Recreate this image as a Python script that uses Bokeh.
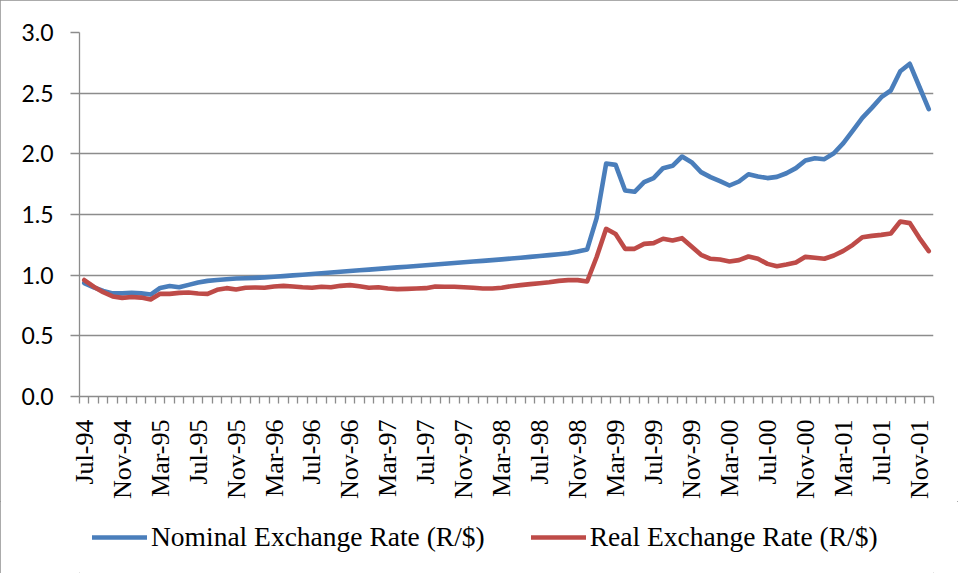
import math
import pandas as pd
from bokeh.plotting import figure
from bokeh.layouts import column
from bokeh.models import (Range1d, FixedTicker, Legend, LegendItem, NumeralTickFormatter,
                          ColumnDataSource)
from bokeh.embed import file_html
from bokeh.resources import INLINE

# ---- data (monthly, Jul-94 .. Dec-01) ----
months = list(pd.date_range("1994-07-01", periods=90, freq="MS").strftime("%b-%y"))

nominal = [
    0.935, 0.900, 0.870, 0.850, 0.850, 0.855, 0.850, 0.840, 0.895, 0.910,
    0.900, 0.920, 0.940, 0.953, 0.960, 0.967, 0.972, 0.975, 0.978, 0.982,
    0.987, 0.992, 0.998, 1.004, 1.010, 1.016, 1.022, 1.028, 1.034, 1.040,
    1.046, 1.052, 1.058, 1.064, 1.070, 1.076, 1.082, 1.088, 1.094, 1.100,
    1.106, 1.112, 1.118, 1.124, 1.130, 1.137, 1.144, 1.151, 1.158, 1.165,
    1.172, 1.180, 1.195, 1.212, 1.470, 1.920, 1.909, 1.698, 1.687, 1.766,
    1.800, 1.882, 1.901, 1.978, 1.931, 1.849, 1.808, 1.775, 1.739, 1.772,
    1.832, 1.813, 1.800, 1.810, 1.840, 1.882, 1.945, 1.964, 1.956, 2.005,
    2.088, 2.192, 2.297, 2.379, 2.467, 2.522, 2.681, 2.742, 2.555, 2.368,
]

real = [
    0.960, 0.905, 0.860, 0.825, 0.813, 0.820, 0.815, 0.800, 0.846, 0.846,
    0.854, 0.857, 0.849, 0.846, 0.879, 0.893, 0.882, 0.896, 0.898, 0.896,
    0.907, 0.912, 0.907, 0.900, 0.896, 0.905, 0.900, 0.912, 0.918, 0.909,
    0.896, 0.900, 0.890, 0.885, 0.887, 0.890, 0.893, 0.907, 0.904, 0.904,
    0.900, 0.896, 0.890, 0.890, 0.896, 0.909, 0.918, 0.926, 0.934, 0.942,
    0.953, 0.959, 0.959, 0.948, 1.150, 1.382, 1.340, 1.217, 1.217, 1.258,
    1.264, 1.300, 1.286, 1.305, 1.236, 1.168, 1.135, 1.129, 1.113, 1.124,
    1.154, 1.135, 1.093, 1.074, 1.088, 1.104, 1.151, 1.143, 1.135, 1.162,
    1.200, 1.250, 1.313, 1.324, 1.332, 1.343, 1.442, 1.429, 1.308, 1.198,
]

tick_labels = ["Jul-94", "Nov-94", "Mar-95", "Jul-95", "Nov-95", "Mar-96", "Jul-96",
               "Nov-96", "Mar-97", "Jul-97", "Nov-97", "Mar-98", "Jul-98", "Nov-98",
               "Mar-99", "Jul-99", "Nov-99", "Mar-00", "Jul-00", "Nov-00", "Mar-01",
               "Jul-01", "Nov-01"]
y_ticks = [0.0, 0.5, 1.0, 1.5, 2.0, 2.5, 3.0]

series_names = ["Nominal Exchange Rate (R/$)", "Real Exchange Rate (R/$)"]
series_colors = ["#4A7EBB", "#BE4B48"]

# ---- main figure ----
x = list(range(len(months)))
src = ColumnDataSource(dict(x=x, month=months, nominal=nominal, real=real))

GRID = "#8c8c8c"

p = figure(frame_width=854, frame_height=364, output_backend="svg", toolbar_location=None,
           x_range=Range1d(-0.5, len(months) - 0.5), y_range=Range1d(0, 3),
           min_border_left=79, min_border_right=25, min_border_top=32,
           min_border_bottom=0)
p.outline_line_color = None
p.background_fill_color = "white"
p.border_fill_color = "white"

p.line("x", "nominal", source=src, line_color=series_colors[0], line_width=4.6,
       line_join="round", line_cap="round")
p.line("x", "real", source=src, line_color=series_colors[1], line_width=4.6,
       line_join="round", line_cap="round")

# x axis
tick_pos = [months.index(l) for l in tick_labels]
xa = p.xaxis[0]
xa.ticker = FixedTicker(ticks=tick_pos, minor_ticks=[i - 0.5 for i in range(len(months) + 1)])
xa.major_label_overrides = {t: l for t, l in zip(tick_pos, tick_labels)}
xa.major_label_orientation = math.pi / 2
xa.major_tick_line_color = None
xa.major_tick_out = 0
xa.major_tick_in = 0
xa.minor_tick_line_color = GRID
xa.minor_tick_line_width = 1.3
xa.minor_tick_out = 7
xa.minor_tick_in = 0
xa.axis_line_color = GRID
xa.axis_line_width = 1.3
xa.major_label_text_font = "Liberation Serif"
xa.major_label_text_font_size = "26px"
xa.major_label_text_color = "black"
xa.major_label_standoff = 16

# y axis
ya = p.yaxis[0]
ya.ticker = FixedTicker(ticks=y_ticks)
ya.formatter = NumeralTickFormatter(format="0.0")
ya.major_tick_out = 9
ya.major_tick_in = 0
ya.minor_tick_line_color = None
ya.major_tick_line_color = GRID
ya.major_tick_line_width = 1.3
ya.axis_line_color = GRID
ya.axis_line_width = 1.3
ya.major_label_text_font = "Lato"
ya.major_label_text_font_size = "23px"
ya.major_label_text_color = "black"
ya.major_label_standoff = 17

p.xgrid.visible = False
p.ygrid.grid_line_color = GRID
p.ygrid.grid_line_width = 1.3

# ---- legend strip (separate small figure below the chart) ----
p2 = figure(width=958, height=72, output_backend="svg", toolbar_location=None,
            x_axis_type=None, y_axis_type=None,
            x_range=Range1d(0, 1), y_range=Range1d(0, 1),
            min_border_left=0, min_border_right=0, min_border_top=0, min_border_bottom=0)
p2.outline_line_color = None
p2.grid.visible = False
p2.background_fill_color = "white"
p2.border_fill_color = "white"
# legend-key lines: same series styles, drawn outside this strip's visible range
lr1 = p2.line(x=[5, 6], y=[5, 6], line_color=series_colors[0], line_width=4.6, line_cap="round")
lr2 = p2.line(x=[5, 6], y=[5, 6], line_color=series_colors[1], line_width=4.6, line_cap="round")

legend = Legend(items=[LegendItem(label=series_names[0], renderers=[lr1]),
                       LegendItem(label=series_names[1], renderers=[lr2])],
                orientation="horizontal", location=(13, 20))
legend.label_text_font = "Liberation Serif"
legend.label_text_font_size = "27.5px"
legend.label_text_color = "black"
legend.glyph_width = 55
legend.glyph_height = 20
legend.label_standoff = 4
legend.spacing = 46
legend.border_line_color = None
legend.background_fill_alpha = 0
legend.margin = 0
legend.padding = 4
p2.add_layout(legend, "center")

layout = column(p, p2, spacing=0)
layout.styles = {"outline": "1px solid #8f8f8f", "outline-offset": "-1px"}

open("out.html", "w").write(file_html(layout, INLINE))
